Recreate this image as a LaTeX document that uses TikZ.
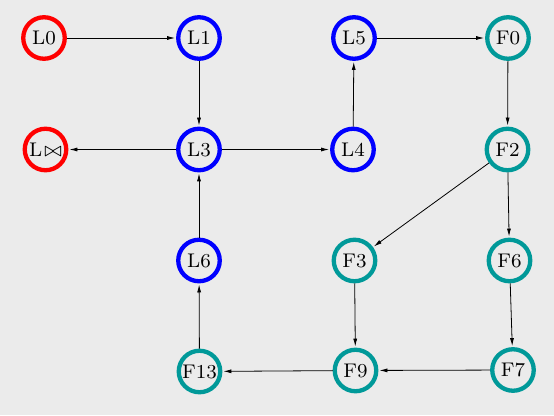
\documentclass[tikz,border=0pt]{standalone}
\usetikzlibrary{arrows.meta}
\definecolor{bgc}{RGB}{235,235,235}
\definecolor{cred}{RGB}{255,0,0}
\definecolor{cblue}{RGB}{0,0,255}
\definecolor{cteal}{RGB}{0,153,153}
\newcommand{\lbl}[1]{\scalebox{2.47}{\fontsize{8}{9.6}\selectfont #1}}
\begin{document}
\begin{tikzpicture}[x=1pt,y=1pt,
  st/.style={circle,draw,line width=4.3pt,minimum size=41.5pt,inner sep=0pt,fill=none},
  rn/.style={st,draw=cred},
  bn/.style={st,draw=cblue},
  tn/.style={st,draw=cteal},
  ar/.style={-{Latex[length=8pt,width=4pt]},line width=0.8pt,black,shorten >=1pt}]
\fill[bgc] (0,0) rectangle (554,415);
\useasboundingbox (0,0) rectangle (554,415);
\node[rn] (L0) at (44,377) {\lbl{L0}};
\node[bn] (L1) at (199,377) {\lbl{L1}};
\node[bn] (L5) at (354,377) {\lbl{L5}};
\node[tn] (F0) at (508,377) {\lbl{F0}};
\node[rn] (Lb) at (45.5,265.5) {\lbl{L\kern0.12em$\bowtie$}};
\node[bn] (L3) at (199,265.5) {\lbl{L3}};
\node[bn] (L4) at (353,265.5) {\lbl{L4}};
\node[tn] (F2) at (507.5,265.5) {\lbl{F2}};
\node[bn] (L6) at (199,154.5) {\lbl{L6}};
\node[tn] (F3) at (354.5,154.5) {\lbl{F3}};
\node[tn] (F6) at (509.5,154.5) {\lbl{F6}};
\node[tn] (F13) at (199.5,43.5) {\lbl{F13}};
\node[tn] (F9) at (355.5,44.5) {\lbl{F9}};
\node[tn] (F7) at (513,45) {\lbl{F7}};
\draw[ar] (L0) -- (L1);
\draw[ar] (L5) -- (F0);
\draw[ar] (L1) -- (L3);
\draw[ar] (F0) -- (F2);
\draw[ar] (L3) -- (Lb);
\draw[ar] (L3) -- (L4);
\draw[ar] (L4) -- (L5);
\draw[ar] (F2) -- (F3);
\draw[ar] (F2) -- (F6);
\draw[ar] (L6) -- (L3);
\draw[ar] (F3) -- (F9);
\draw[ar] (F6) -- (F7);
\draw[ar] (F7) -- (F9);
\draw[ar] (F9) -- (F13);
\draw[ar] (F13) -- (L6);
\end{tikzpicture}
\end{document}
